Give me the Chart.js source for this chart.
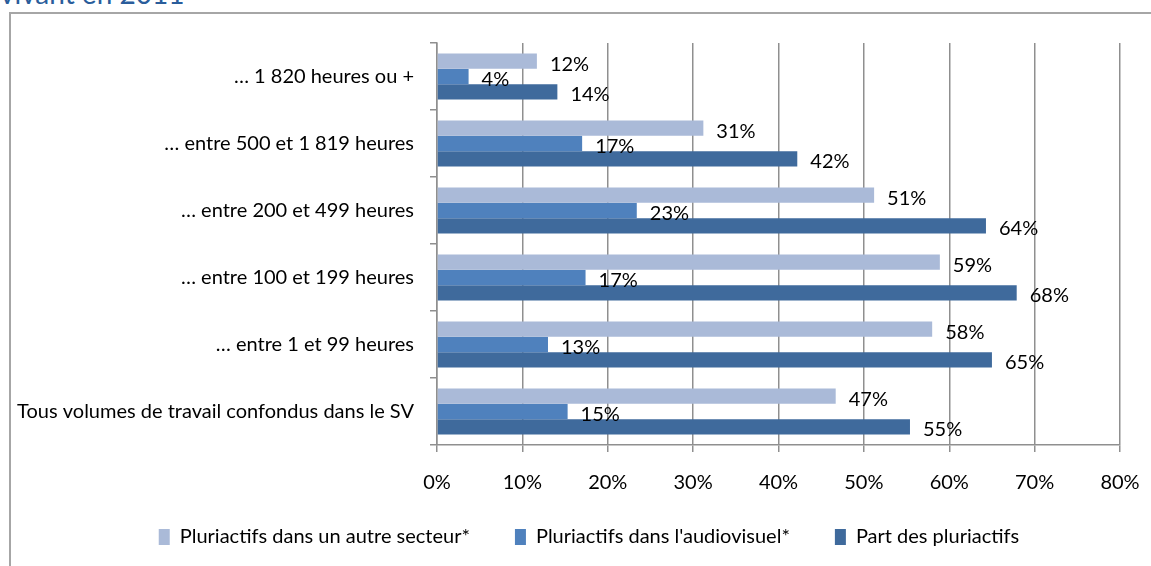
<!DOCTYPE html>
<html>
<head>
<meta charset="utf-8">
<script src="https://cdn.jsdelivr.net/npm/chart.js@4"></script>
<style>
  html, body { margin: 0; padding: 0; background: #fff; overflow: hidden; }
  #title {
    position: absolute; left: 0; top: -21px;
    font: 28px/28px Lato, sans-serif; color: #2a5d9b; white-space: nowrap;
  }
  #frame {
    position: absolute; left: 9px; top: 12px; width: 1300px; height: 700px;
    border: 2px solid #a6a6a6;
  }
  #wrap { position: absolute; left: 0; top: 0; width: 1151px; height: 566px; }
</style>
</head>
<body>
<div id="title">vivant en 2011</div>
<div id="frame"></div>
<div id="wrap"><canvas id="chart"></canvas></div>
<script>
const categories = [
  '… 1 820 heures ou +',
  '… entre 500 et 1 819 heures',
  '… entre 200 et 499 heures',
  '… entre 100 et 199 heures',
  '… entre 1 et 99 heures',
  'Tous volumes de travail confondus dans le SV'
]
const autreSecteur = [11.7, 31.2, 51.2, 58.9, 58.0, 46.7]
const audiovisuel = [3.7, 17.0, 23.4, 17.4, 13.0, 15.3]
const partPluriactifs = [14.1, 42.2, 64.3, 67.9, 65.0, 55.4]
const xTicks = [0, 10, 20, 30, 40, 50, 60, 70, 80]

const gridColor = '#8f8f8f'
const font = { family: 'Lato', size: 20 }

// value labels just past the end of each bar
const barLabels = {
  id: 'barLabels',
  afterDatasetsDraw(chart) {
    const ctx = chart.ctx
    ctx.save()
    ctx.font = '20px Lato'
    ctx.fillStyle = '#000'
    ctx.textAlign = 'left'
    ctx.textBaseline = 'middle'
    chart.data.datasets.forEach((ds, i) => {
      chart.getDatasetMeta(i).data.forEach((bar, j) => {
        ctx.fillText(Math.round(ds.data[j]) + '%', bar.x + 13, bar.y + 3)
      })
    })
    ctx.restore()
  }
}

// move the legend box to where it sits in the original
const legendPlace = {
  id: 'legendPlace',
  afterLayout(chart) {
    const lg = chart.legend
    const dy = 482 - lg.top
    const dx = 589 - (lg.left + lg.right) / 2
    lg.top += dy; lg.bottom += dy
    lg.left += dx; lg.right += dx
  }
}

Chart.defaults.font.family = 'Lato'
Chart.defaults.color = '#000'

new Chart(document.getElementById('chart'), {
  type: 'bar',
  data: {
    labels: categories,
    datasets: [
      { label: 'Pluriactifs dans un autre secteur*', data: autreSecteur, backgroundColor: '#aabad8' },
      { label: "Pluriactifs dans l'audiovisuel*", data: audiovisuel, backgroundColor: '#4f81bd' },
      { label: 'Part des pluriactifs', data: partPluriactifs, backgroundColor: '#3f6a9c' }
    ]
  },
  options: {
    indexAxis: 'y',
    responsive: true,
    maintainAspectRatio: false,
    animation: false,
    datasets: { bar: { categoryPercentage: 0.69, barPercentage: 1 } },
    layout: { padding: { left: 0, right: 31, top: 43, bottom: 0 } },
    scales: {
      x: {
        min: 0, max: 80,
        afterBuildTicks: s => { s.ticks = xTicks.map(v => ({ value: v })) },
        afterFit: s => {
          s.height = 46
          s.paddingLeft = 0
          s.paddingRight = 0
        },
        ticks: { font: font, padding: 19, callback: v => v + '%' },
        grid: { color: gridColor, lineWidth: 1.5, tickLength: 7 },
        border: { color: gridColor, width: 1.5 }
      },
      y: {
        afterFit: s => { s.width = 437 },
        ticks: { font: font, padding: 16 },
        grid: { offset: true, drawOnChartArea: false, color: gridColor, lineWidth: 1.5, tickLength: 7 },
        border: { color: gridColor, width: 1.5 }
      }
    },
    plugins: {
      legend: {
        position: 'bottom',
        labels: { font: font, boxWidth: 11, boxHeight: 16, padding: 45 }
      },
      tooltip: { enabled: false }
    }
  },
  plugins: [barLabels, legendPlace]
})
</script>
</body>
</html>
